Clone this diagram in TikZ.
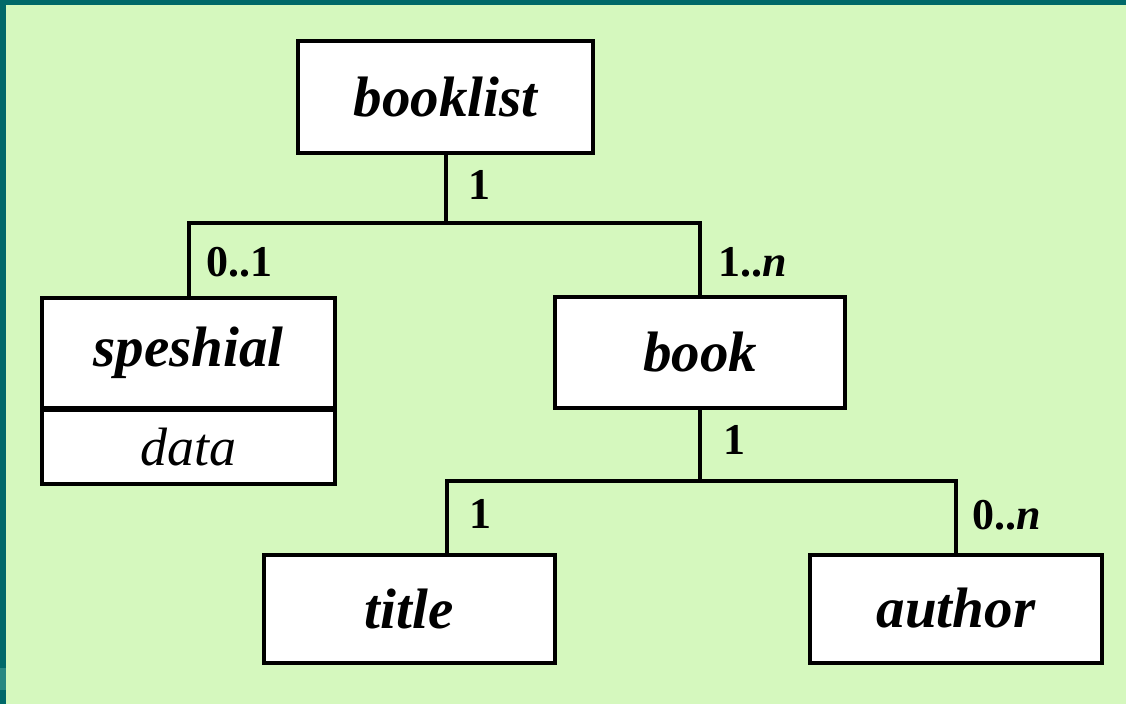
\documentclass[tikz,border=0pt]{standalone}
\usepackage{fontspec}
\setmainfont{Liberation Serif}
\definecolor{bgc}{RGB}{213,248,190}
\definecolor{teal0}{RGB}{0,105,105}
\definecolor{teal1}{RGB}{40,135,130}
\begin{document}
\begin{tikzpicture}[x=1pt,y=-1pt,
  cls/.style={draw=black,fill=white,line width=4pt,inner sep=0pt,
    font=\fontsize{57}{60}\selectfont\bfseries\itshape},
  attr/.style={draw=black,fill=white,line width=4pt,inner sep=0pt,
    font=\fontsize{54}{58}\selectfont\itshape},
  wire/.style={line width=4pt,line cap=rect,line join=miter},
  mult/.style={font=\fontsize{44}{48}\selectfont\bfseries,inner sep=0pt,anchor=west}]
\useasboundingbox (0,0) rectangle (1126,704);
\fill[teal0] (0,0) rectangle (1126,704);
\fill[bgc] (6,5) rectangle (1126,704);
\fill[teal1] (0,668) rectangle (6,690);
% nodes
\node[cls,minimum width=295,minimum height=112] (bl) at (445.5,97) {booklist};
\node[cls,minimum width=293,minimum height=110] (sp) at (188.5,353) {speshial};
\node[attr,minimum width=293,minimum height=74,anchor=north,yshift=2pt] (da) at (sp.south) {data};
\node[cls,minimum width=290,minimum height=111] (bk) at (700,352.5) {book};
\node[cls,minimum width=291,minimum height=108] (ti) at (409,608.5) {title};
\node[cls,minimum width=292,minimum height=108] (au) at (956,608.5) {author};
% junctions
\coordinate (j1) at (445.5,223);
\coordinate (j2) at (700,481);
\coordinate (tt) at (447,554.5);
% connectors
\draw[wire] (bl.south) -- (j1);
\draw[wire] (sp.north) |- (j1) -| (bk.north);
\draw[wire] (bk.south) -- (j2);
\draw[wire] (tt) |- (j2) -| (au.north);
% multiplicities
\node[mult] (m1) at (468,185) {1};
\node[mult] (m2) at (206,262) {0..1};
\node[mult] (m3) at (718,262) {1..\textit{n}};
\node[mult] (m4) at (723,440) {1};
\node[mult] (m5) at (469,514) {1};
\node[mult] (m6) at (972,515) {0..\textit{n}};
\end{tikzpicture}
\end{document}
